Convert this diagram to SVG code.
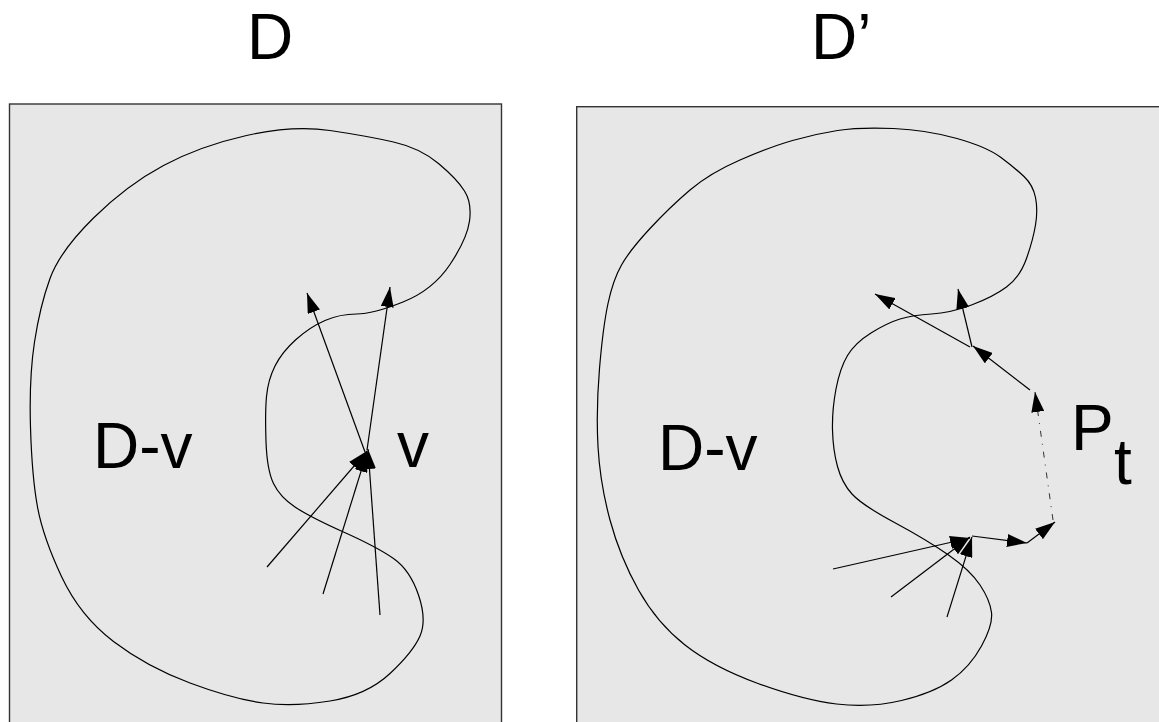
<svg xmlns="http://www.w3.org/2000/svg" width="1159" height="722" viewBox="0 0 1159 722">
<style>
.panel{fill:#e7e7e7;stroke:#333;stroke-width:1.4}
.blob{fill:none;stroke:#000;stroke-width:1.2}
.lbl{font-family:"Liberation Sans",Arial,sans-serif;font-size:64px;fill:#000}
.arr{stroke:#000;stroke-width:1.2;fill:none;marker-end:url(#ah)}
.dash{stroke:#333;stroke-width:1;fill:none;stroke-dasharray:6 7 1 7;marker-end:url(#ah)}
</style>
<defs>
<marker id="ah" markerUnits="userSpaceOnUse" markerWidth="20" markerHeight="13" refX="20" refY="6.5" orient="auto">
<path d="M0,0 L20,6.5 L0,13 z" fill="#000"/>
</marker>
</defs>
<rect width="1159" height="722" fill="#fff"/>
<g id="titleD"><text class="lbl" x="247" y="59">D</text></g>
<g id="titleDp"><text class="lbl" x="811" y="59">D’</text></g>
<g id="panelD">
<rect class="panel" x="9.5" y="104" width="492" height="640"/>
<path class="blob" d="M330,130.5 Q367,136 393.5,142 Q420,148 438.5,163.5 Q457,179 464.5,191 Q472,203 469.5,221 Q467,239 450,264.5 Q433,290 403,302 Q373,314 356.5,314 Q340,314 325,320.5 Q310,327 296,339.5 Q282,352 275,366 Q268,380 266.5,396.5 Q265,413 266,441.5 Q267,470 273.5,483.5 Q280,497 295,507 Q310,517 343.5,532 Q377,547 393.5,558.5 Q410,570 418.5,595 Q427,620 420,636 Q413,652 390,673.5 Q367,695 330,701 Q293,707 263,703 Q233,699 190,683 Q147,667 113.5,641.5 Q80,616 61.5,576.5 Q43,537 37.5,507 Q32,477 30.5,427.5 Q29,378 34.5,342 Q40,306 50,278.5 Q60,251 93.5,218 Q127,185 163.5,165.5 Q200,146 246.5,135.5 Q293,125 330,130.5 Z"/>
<text class="lbl" x="93" y="468">D-v</text>
<text class="lbl" x="397" y="467">v</text>
</g>
<g id="panelDp">
<rect class="panel" x="576.7" y="106.7" width="600" height="640"/>
<path class="blob" d="M893.5,128.5 Q927,130 957,138.5 Q987,147 1001,157.5 Q1015,168 1024,176.5 Q1033,185 1035.5,197.5 Q1038,210 1035.5,225 Q1033,240 1026.5,258.5 Q1020,277 1006.5,287 Q993,297 971.5,305 Q950,313 931.5,314 Q913,315 900,319 Q887,323 871,333 Q855,343 847.5,355.5 Q840,368 836,389 Q832,410 832.5,430 Q833,450 837.5,466.5 Q842,483 852,494 Q862,505 894.5,522.5 Q927,540 948.5,555 Q970,570 980,585 Q990,600 991.5,612.5 Q993,625 981.5,646 Q970,667 951.5,680 Q933,693 901.5,700.5 Q870,708 836.5,704 Q803,700 758,683.5 Q713,667 685,645 Q657,623 638.5,590 Q620,557 610,520 Q600,483 598,446.5 Q596,410 599.5,368.5 Q603,327 608,303.5 Q613,280 621.5,265 Q630,250 650,228.5 Q670,207 690,190 Q710,173 740,160 Q770,147 792.5,140.5 Q815,134 837.5,130.5 Q860,127 893.5,128.5 Z"/>
<text class="lbl" x="658" y="470">D-v</text>
<text class="lbl" x="1071" y="450">P<tspan x="1114" dy="34">t</tspan></text>
</g>
<g id="connectors">
<line class="arr" x1="365" y1="452" x2="307" y2="293"/>
<line class="arr" x1="367" y1="450" x2="390" y2="287"/>
<line class="arr" x1="267" y1="567" x2="367" y2="451"/>
<line class="arr" x1="323" y1="594" x2="367" y2="452"/>
<line class="arr" x1="380" y1="615" x2="368" y2="449"/>
<line class="arr" x1="970" y1="347" x2="875" y2="294"/>
<line class="arr" x1="972" y1="347" x2="958" y2="289"/>
<line class="arr" x1="1030" y1="390" x2="973" y2="346"/>
<line class="dash" x1="1053" y1="520" x2="1035" y2="392"/>
<line class="arr" x1="1027" y1="543" x2="1055" y2="522"/>
<line class="arr" x1="972" y1="536" x2="1027" y2="543"/>
<line class="arr" x1="833" y1="569" x2="970" y2="538"/>
<line class="arr" x1="891" y1="597" x2="970" y2="537"/>
<line class="arr" x1="947" y1="617" x2="972" y2="537"/>
</g>
</svg>
